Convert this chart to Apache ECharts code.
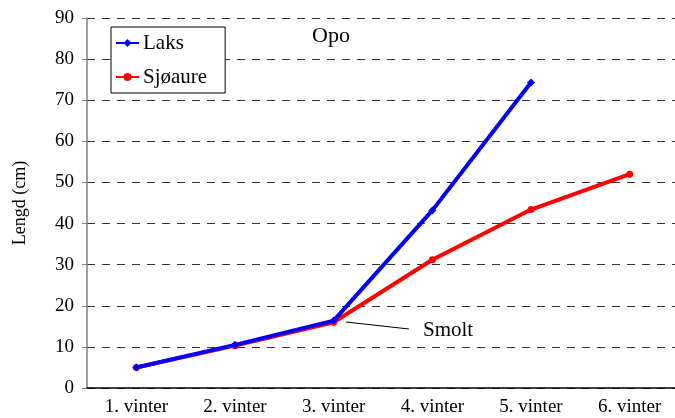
<!DOCTYPE html>
<html>
<head>
<meta charset="utf-8">
<script src="https://cdn.jsdelivr.net/npm/echarts@6/dist/echarts.min.js"></script>
<style>html,body{margin:0;padding:0;background:#fff}#c{width:675px;height:418px}</style>
</head>
<body>
<div id="c"></div>
<script>
var categories = ['1. vinter', '2. vinter', '3. vinter', '4. vinter', '5. vinter', '6. vinter'];
var laks = [5.0, 10.5, 16.4, 43.2, 74.3, null];
var sjoaure = [5.0, 10.3, 16.0, 31.2, 43.4, 52.0];
var yTicks = [0, 10, 20, 30, 40, 50, 60, 70, 80, 90];
var FONT = '"Liberation Serif", "Times New Roman", serif';

var chart = echarts.init(document.getElementById('c'), null, {renderer: 'canvas'});
chart.setOption({
  animation: false,
  backgroundColor: '#ffffff',
  textStyle: {fontFamily: FONT, color: '#000'},
  grid: {left: 87, top: 18, width: 592, height: 370, containLabel: false, outerBoundsMode: 'none'},
  title: {
    text: 'Opo', left: 312, top: 25, padding: 0,
    textStyle: {fontFamily: FONT, fontSize: 22, fontWeight: 'normal', color: '#000'}
  },
  legend: {
    data: ['Laks', 'Sjøaure'],
    orient: 'vertical',
    left: 111, top: 27,
    padding: [5, 18, 5, 4],
    itemGap: 12,
    itemWidth: 23, itemHeight: 10,
    borderColor: '#000', borderWidth: 1,
    backgroundColor: '#fff',
    textStyle: {fontFamily: FONT, fontSize: 21, color: '#000', lineHeight: 22, padding: [0, 0, 0, -1]}
  },
  xAxis: {
    type: 'category', data: categories, boundaryGap: true,
    axisLine: {lineStyle: {color: '#000', width: 1.5}},
    axisTick: {show: false},
    axisLabel: {fontFamily: FONT, fontSize: 19, color: '#000', margin: 10, interval: 0},
    splitLine: {show: false}
  },
  yAxis: {
    type: 'value', min: 0, max: 90, interval: 10,
    name: 'Lengd (cm)', nameLocation: 'middle', nameGap: 58,
    nameTextStyle: {fontFamily: FONT, fontSize: 18, color: '#000'},
    axisLine: {show: true, lineStyle: {color: '#808080', width: 1.5}},
    axisTick: {show: true, inside: false, length: 5, lineStyle: {color: '#808080'}},
    axisLabel: {fontFamily: FONT, fontSize: 19, color: '#000', margin: 13,
      formatter: function (v) { return yTicks.indexOf(v) >= 0 ? String(v) : ''; }},
    splitLine: {show: true, lineStyle: {color: '#333', width: 1, type: [8, 7]}}
  },
  series: [
    {
      name: 'Sjøaure', type: 'line', data: sjoaure,
      symbol: 'circle', symbolSize: 7, z: 2,
      lineStyle: {color: '#ff0000', width: 4},
      itemStyle: {color: '#ff0000'}
    },
    {
      name: 'Laks', type: 'line', data: laks,
      symbol: 'diamond', symbolSize: 8, z: 3,
      lineStyle: {color: '#0000ff', width: 4},
      itemStyle: {color: '#0000ff'}
    }
  ],
  graphic: [
    {type: 'line', shape: {x1: 346, y1: 322, x2: 409, y2: 329}, style: {stroke: '#000', lineWidth: 1}, z: 10},
    {type: 'text', left: 423, top: 320, style: {text: 'Smolt', font: '21px "Liberation Serif", serif', fill: '#000'}, z: 10}
  ]
});
</script>
</body>
</html>
